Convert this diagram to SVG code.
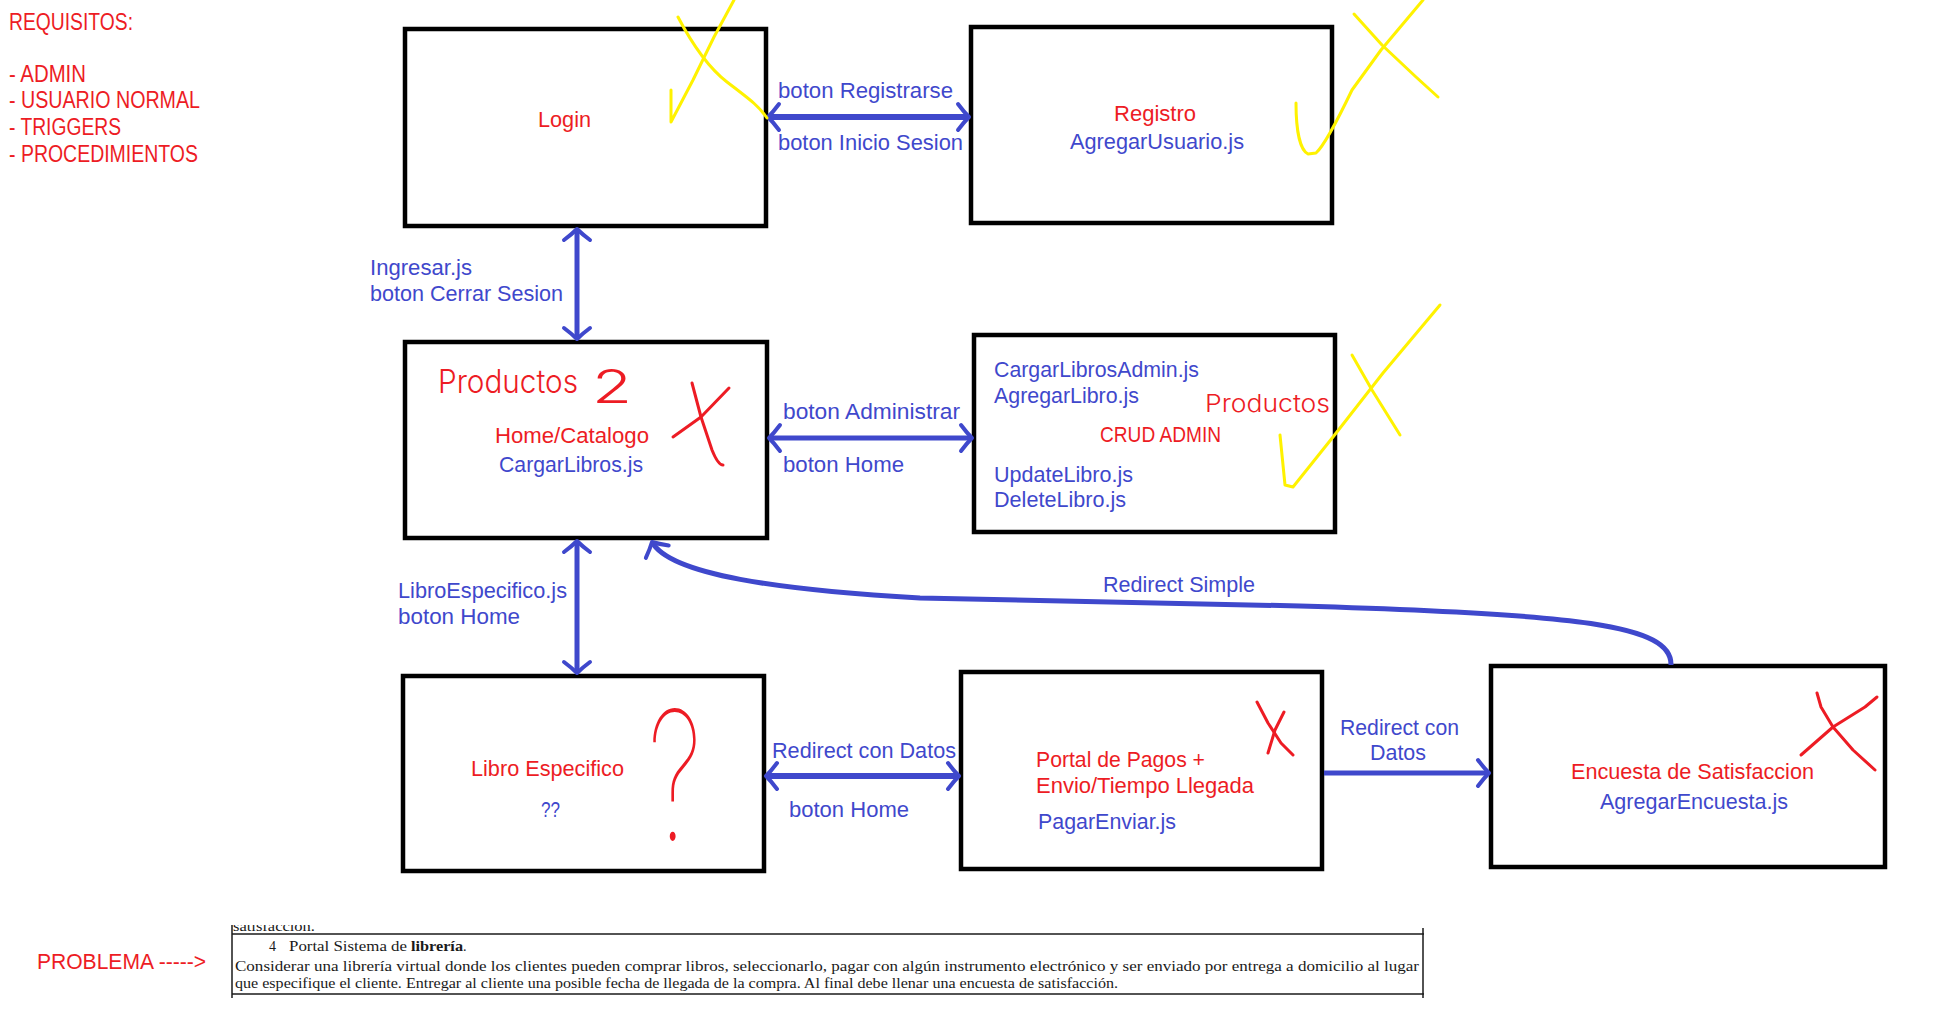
<svg xmlns="http://www.w3.org/2000/svg" width="1933" height="1033" viewBox="0 0 1933 1033">
<style>
.box{fill:#fff;stroke:#000;stroke-width:4.5}
.t{font-family:"Liberation Sans",Arial,sans-serif;font-size:22px}
.b{fill:#3f48cc}
.r{fill:#ed1c24}
.conn{fill:none;stroke:#3f48cc;stroke-width:5}
.thick{stroke-width:6}
.y{fill:none;stroke:#fff200;stroke-width:3;stroke-linecap:round;stroke-linejoin:round}
.rx{fill:none;stroke:#ed1c24;stroke-width:3;stroke-linecap:round;stroke-linejoin:round}
.hand{fill:#ed1c24;font-family:Inter,"Liberation Sans",sans-serif;font-weight:300}
.serif{font-family:"Liberation Serif","Times New Roman",serif;font-size:14px;fill:#1a1a1a}
.rule{stroke:#1a1a1a;stroke-width:1.5}
</style>
<defs>
<marker id="ah" markerUnits="userSpaceOnUse" markerWidth="40" markerHeight="40" viewBox="-20 -20 40 40" refX="0" refY="0" orient="auto-start-reverse" overflow="visible">
<path d="M-11,-13 Q-5,-5 0,0 Q-5,5 -11,13" fill="none" stroke="#3f48cc" stroke-width="4" stroke-linecap="round" stroke-linejoin="round"/>
</marker>
<clipPath id="cut"><rect x="228" y="925" width="120" height="7"/></clipPath>
</defs>

<g id="requisitos" class="t r" style="font-size:23px">
<text x="9" y="30" textLength="124" lengthAdjust="spacingAndGlyphs">REQUISITOS:</text>
<text x="9" y="82" textLength="77" lengthAdjust="spacingAndGlyphs">- ADMIN</text>
<text x="9" y="108" textLength="191" lengthAdjust="spacingAndGlyphs">- USUARIO NORMAL</text>
<text x="9" y="135" textLength="112" lengthAdjust="spacingAndGlyphs">- TRIGGERS</text>
<text x="9" y="162" textLength="189" lengthAdjust="spacingAndGlyphs">- PROCEDIMIENTOS</text>
</g>

<g id="login">
<rect class="box" x="405" y="29" width="361" height="197"/>
<text class="t r" x="538" y="127" textLength="53" lengthAdjust="spacingAndGlyphs">Login</text>
</g>

<g id="registro">
<rect class="box" x="971" y="27" width="361" height="196"/>
<text class="t r" x="1114" y="121" textLength="82" lengthAdjust="spacingAndGlyphs">Registro</text>
<text class="t b" x="1070" y="149" textLength="174" lengthAdjust="spacingAndGlyphs">AgregarUsuario.js</text>
</g>

<g id="home">
<rect class="box" x="405" y="342" width="362" height="196"/>
<text class="hand" x="438" y="393" font-size="32" textLength="140" lengthAdjust="spacingAndGlyphs">Productos</text>
<text class="hand" x="592" y="403" font-size="46" textLength="40" lengthAdjust="spacingAndGlyphs">2</text>
<text class="t r" x="495" y="443" textLength="154" lengthAdjust="spacingAndGlyphs">Home/Catalogo</text>
<text class="t b" x="499" y="472" textLength="144" lengthAdjust="spacingAndGlyphs">CargarLibros.js</text>
</g>

<g id="crud">
<rect class="box" x="974" y="335" width="361" height="197"/>
<text class="t b" x="994" y="377" textLength="205" lengthAdjust="spacingAndGlyphs">CargarLibrosAdmin.js</text>
<text class="t b" x="994" y="403" textLength="145" lengthAdjust="spacingAndGlyphs">AgregarLibro.js</text>
<text class="t r" x="1100" y="442" textLength="121" lengthAdjust="spacingAndGlyphs">CRUD ADMIN</text>
<text class="t b" x="994" y="482" textLength="139" lengthAdjust="spacingAndGlyphs">UpdateLibro.js</text>
<text class="t b" x="994" y="507" textLength="132" lengthAdjust="spacingAndGlyphs">DeleteLibro.js</text>
<text class="hand" x="1205" y="412" font-size="24" textLength="125" lengthAdjust="spacingAndGlyphs">Productos</text>
</g>

<g id="libro">
<rect class="box" x="403" y="676" width="361" height="195"/>
<text class="t r" x="471" y="776" textLength="153" lengthAdjust="spacingAndGlyphs">Libro Especifico</text>
<text class="t b" x="541" y="817" textLength="19" lengthAdjust="spacingAndGlyphs">??</text>
<text class="hand" x="648" y="840" font-size="180" style="font-weight:100" textLength="54" lengthAdjust="spacingAndGlyphs">?</text>
</g>

<g id="portal">
<rect class="box" x="961" y="672" width="361" height="197"/>
<text class="t r" x="1036" y="767" textLength="169" lengthAdjust="spacingAndGlyphs">Portal de Pagos +</text>
<text class="t r" x="1036" y="793" textLength="218" lengthAdjust="spacingAndGlyphs">Envio/Tiempo Llegada</text>
<text class="t b" x="1038" y="829" textLength="138" lengthAdjust="spacingAndGlyphs">PagarEnviar.js</text>
</g>

<g id="encuesta">
<rect class="box" x="1491" y="666" width="394" height="201"/>
<text class="t r" x="1571" y="779" textLength="243" lengthAdjust="spacingAndGlyphs">Encuesta de Satisfaccion</text>
<text class="t b" x="1600" y="809" textLength="188" lengthAdjust="spacingAndGlyphs">AgregarEncuesta.js</text>
</g>

<g id="connectors">
<line class="conn thick" x1="768" y1="117" x2="969" y2="117" marker-start="url(#ah)" marker-end="url(#ah)"/>
<line class="conn" x1="577" y1="229" x2="577" y2="339" marker-start="url(#ah)" marker-end="url(#ah)"/>
<line class="conn" x1="769" y1="438" x2="972" y2="438" marker-start="url(#ah)" marker-end="url(#ah)"/>
<line class="conn" x1="577" y1="541" x2="577" y2="673" marker-start="url(#ah)" marker-end="url(#ah)"/>
<line class="conn thick" x1="766" y1="776" x2="959" y2="776" marker-start="url(#ah)" marker-end="url(#ah)"/>
<line class="conn" x1="1324" y1="773" x2="1489" y2="773" marker-end="url(#ah)"/>
<path class="conn" d="M1671,665 C1672,625 1580,614 1300,606 L920,598 C780,590 670,575 652,542" marker-end="url(#ah)"/>
<g class="t b">
<text x="778" y="98" textLength="175" lengthAdjust="spacingAndGlyphs">boton Registrarse</text>
<text x="778" y="150" textLength="185" lengthAdjust="spacingAndGlyphs">boton Inicio Sesion</text>
<text x="370" y="275" textLength="102" lengthAdjust="spacingAndGlyphs">Ingresar.js</text>
<text x="370" y="301" textLength="193" lengthAdjust="spacingAndGlyphs">boton Cerrar Sesion</text>
<text x="783" y="419" textLength="177" lengthAdjust="spacingAndGlyphs">boton Administrar</text>
<text x="783" y="472" textLength="121" lengthAdjust="spacingAndGlyphs">boton Home</text>
<text x="398" y="598" textLength="169" lengthAdjust="spacingAndGlyphs">LibroEspecifico.js</text>
<text x="398" y="624" textLength="122" lengthAdjust="spacingAndGlyphs">boton Home</text>
<text x="1103" y="592" textLength="152" lengthAdjust="spacingAndGlyphs">Redirect Simple</text>
<text x="772" y="758" textLength="184" lengthAdjust="spacingAndGlyphs">Redirect con Datos</text>
<text x="789" y="817" textLength="120" lengthAdjust="spacingAndGlyphs">boton Home</text>
<text x="1340" y="735" textLength="119" lengthAdjust="spacingAndGlyphs">Redirect con</text>
<text x="1370" y="760" textLength="56" lengthAdjust="spacingAndGlyphs">Datos</text>
</g>
</g>

<g id="marks">
<path class="y" d="M678,17 C690,40 705,65 727,82 S758,105 767,118"/>
<path class="y" d="M671,90 L671,122 L693,80 L714,37 L734,0"/>
<path class="y" d="M1296,103 C1296,130 1300,150 1308,154 L1316,153 C1325,145 1340,115 1352,90 L1381,50 L1423,0"/>
<path class="y" d="M1354,14 L1382,45 L1416,77 L1438,97"/>
<path class="y" d="M1280,435 L1285,485 L1293,487 L1333,437 L1383,373 L1440,305"/>
<path class="y" d="M1352,355 L1372,390 L1400,435"/>
<path class="rx" d="M692,383 L701,417 L712,450 Q718,465 723,465"/>
<path class="rx" d="M673,437 L701,417 L729,388"/>
<path class="rx" d="M1257,702 L1268,723 L1281,743 L1293,755"/>
<path class="rx" d="M1284,712 L1275,730 L1268,753"/>
<path class="rx" d="M1817,693 L1821,707 L1833,727 L1853,750 L1875,770"/>
<path class="rx" d="M1801,755 L1833,727 L1865,707 L1877,697"/>
</g>

<g id="problema">
<text class="t r" x="37" y="969" style="font-size:22px" textLength="169" lengthAdjust="spacingAndGlyphs">PROBLEMA -----&gt;</text>
<line class="rule" x1="232" y1="934" x2="1424" y2="934"/>
<line class="rule" x1="232" y1="994" x2="1424" y2="994"/>
<line class="rule" x1="232" y1="925" x2="232" y2="998"/>
<line class="rule" x1="1423" y1="928" x2="1423" y2="998"/>
<text class="serif" x="233" y="931" clip-path="url(#cut)" textLength="82" lengthAdjust="spacingAndGlyphs">satisfacción.</text>
<text class="serif" y="951"><tspan x="269">4</tspan><tspan x="289" textLength="118" lengthAdjust="spacingAndGlyphs">Portal Sistema de</tspan><tspan x="411" font-weight="bold" textLength="52" lengthAdjust="spacingAndGlyphs">librería</tspan><tspan x="463">.</tspan></text>
<text class="serif" x="235" y="971" textLength="1184" lengthAdjust="spacingAndGlyphs">Considerar una librería virtual donde los clientes pueden comprar libros, seleccionarlo, pagar con algún instrumento electrónico y ser enviado por entrega a domicilio al lugar</text>
<text class="serif" x="235" y="988" textLength="883" lengthAdjust="spacingAndGlyphs">que especifique el cliente. Entregar al cliente una posible fecha de llegada de la compra. Al final debe llenar una encuesta de satisfacción.</text>
</g>
</svg>
